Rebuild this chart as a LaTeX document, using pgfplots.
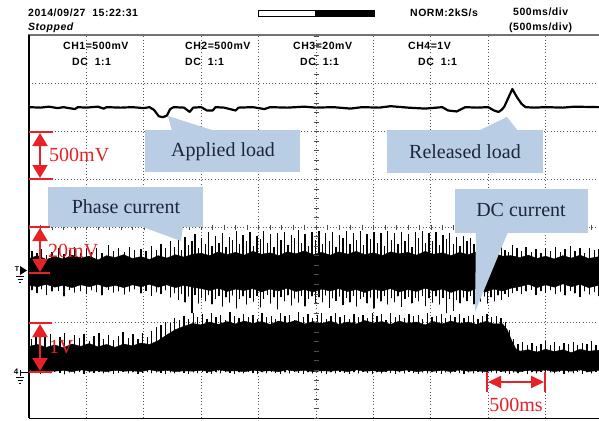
\documentclass[border=0pt]{standalone}
\usepackage{pgfplots}
\pgfplotsset{compat=1.18}
\usepackage{pgfplotstable}
\usepackage{fontspec}
\setmainfont{Liberation Serif}
\newfontfamily\scopefnt[LetterSpace=5]{Liberation Sans}
\usetikzlibrary{arrows.meta}
\definecolor{myred}{RGB}{232,32,40}
\definecolor{callblue}{RGB}{185,205,229}
\definecolor{calltext}{RGB}{30,38,58}

% phase current (CH3) spikes: x [div], low, high [div]
\pgfplotstableread{
x lo hi
0.05 -1.32 -0.50
0.14 -1.38 -0.55
0.22 -1.30 -0.46
0.31 -1.42 -0.58
0.40 -1.35 -0.52
0.52 -1.33 -0.44
0.61 -1.45 -0.56
0.70 -1.31 -0.49
0.79 -1.37 -0.41
0.90 -1.34 -0.54
1.00 -1.40 -0.47
1.09 -1.32 -0.52
1.18 -1.36 -0.43
1.27 -1.43 -0.55
1.38 -1.31 -0.38
1.47 -1.37 -0.50
1.56 -1.34 -0.45
1.66 -1.41 -0.53
1.75 -1.35 -0.42
1.84 -1.30 -0.49
1.95 -1.39 -0.46
2.04 -1.33 -0.51
2.13 -1.44 -0.40
2.22 -1.36 -0.48
2.30 -1.40 -0.36
2.38 -1.32 -0.44
2.46 -1.47 -0.30
2.53 -1.38 -0.42
2.60 -1.52 -0.25
2.66 -1.40 -0.48
2.72 -1.58 -0.20
2.78 -1.45 -0.38
2.84 -1.80 -0.30
2.89 -1.42 -0.15
2.95 -1.60 -0.45
3.01 -1.48 -0.22
3.07 -1.55 -0.35
3.13 -1.42 -0.10
3.19 -1.62 -0.40
3.25 -1.50 -0.18
3.31 -1.44 -0.33
3.37 -1.66 -0.12
3.43 -1.47 -0.42
3.49 -1.58 -0.20
3.55 -1.43 -0.28
3.61 -1.70 -0.09
3.67 -1.50 -0.36
3.73 -1.45 -0.16
3.79 -1.62 -0.30
3.85 -1.48 -0.11
3.91 -1.56 -0.40
3.97 -1.44 -0.19
4.03 -1.68 -0.26
4.09 -1.50 -0.08
4.15 -1.42 -0.34
4.21 -1.60 -0.15
4.27 -1.47 -0.42
4.33 -1.72 -0.12
4.39 -1.46 -0.28
4.45 -1.55 -0.10
4.51 -1.43 -0.38
4.57 -1.64 -0.17
4.63 -1.49 -0.24
4.69 -1.58 -0.07
4.75 -1.44 -0.33
4.81 -1.66 -0.14
4.87 -1.50 -0.40
4.93 -1.45 -0.11
4.99 -1.61 -0.27
5.05 -1.47 -0.09
5.11 -1.57 -0.36
5.17 -1.43 -0.13
5.23 -1.69 -0.30
5.29 -1.49 -0.10
5.35 -1.54 -0.41
5.41 -1.45 -0.16
5.47 -1.63 -0.23
5.53 -1.48 -0.08
5.59 -1.58 -0.35
5.65 -1.44 -0.12
5.71 -1.66 -0.28
5.77 -1.50 -0.09
5.83 -1.46 -0.38
5.89 -1.60 -0.14
5.95 -1.47 -0.25
6.01 -1.70 -0.10
6.07 -1.49 -0.33
6.13 -1.56 -0.12
6.19 -1.44 -0.40
6.25 -1.62 -0.08
6.31 -1.48 -0.27
6.37 -1.57 -0.13
6.43 -1.45 -0.36
6.49 -1.67 -0.10
6.55 -1.50 -0.29
6.61 -1.46 -0.15
6.67 -1.60 -0.42
6.73 -1.48 -0.11
6.79 -1.55 -0.24
6.85 -1.44 -0.09
6.91 -1.65 -0.34
6.97 -1.49 -0.13
7.03 -1.58 -0.30
7.09 -1.45 -0.10
7.15 -1.62 -0.38
7.21 -1.48 -0.16
7.27 -1.80 -0.26
7.33 -1.50 -0.12
7.39 -1.75 -0.35
7.45 -1.52 -0.20
7.51 -1.60 -0.40
7.57 -1.47 -0.18
7.63 -1.55 -0.30
7.69 -1.44 -0.22
7.75 -1.62 -0.36
7.81 -1.48 -0.25
7.87 -1.56 -0.42
7.93 -1.45 -0.28
7.99 -1.60 -0.45
8.05 -1.47 -0.30
8.11 -1.55 -0.38
8.17 -1.43 -0.46
8.23 -1.52 -0.40
8.29 -1.40 -0.48
8.35 -1.46 -0.52
8.42 -1.38 -0.38
8.50 -1.33 -0.45
8.58 -1.40 -0.50
8.66 -1.35 -0.42
8.75 -1.31 -0.52
8.83 -1.42 -0.46
8.92 -1.34 -0.55
9.00 -1.38 -0.44
9.09 -1.32 -0.50
9.17 -1.40 -0.41
9.26 -1.35 -0.53
9.34 -1.43 -0.47
9.43 -1.33 -0.40
9.51 -1.39 -0.51
9.60 -1.46 -0.45
9.68 -1.34 -0.54
9.77 -1.41 -0.43
9.85 -1.36 -0.49
9.92 -1.44 -0.46
}\chthreespikes

% DC current (CH4) spikes
\pgfplotstableread{
x lo hi
0.04 -3.05 -2.35
0.12 -3.03 -2.28
0.20 -3.07 -2.40
0.28 -3.04 -2.31
0.37 -3.06 -2.25
0.45 -3.03 -2.38
0.54 -3.05 -2.30
0.62 -3.08 -2.22
0.71 -3.04 -2.36
0.79 -3.06 -2.27
0.88 -3.03 -2.33
0.96 -3.07 -2.24
1.05 -3.04 -2.39
1.13 -3.05 -2.29
1.22 -3.03 -2.21
1.30 -3.06 -2.34
1.39 -3.04 -2.26
1.47 -3.07 -2.37
1.56 -3.05 -2.28
1.64 -3.03 -2.20
1.73 -3.06 -2.32
1.81 -3.04 -2.25
1.90 -3.07 -2.35
1.98 -3.05 -2.23
2.06 -3.03 -2.30
2.14 -3.06 -2.18
2.22 -3.04 -2.10
2.30 -3.05 -2.05
2.38 -3.07 -1.98
2.46 -3.04 -2.00
2.54 -3.06 -1.90
2.62 -3.03 -1.94
2.70 -3.05 -1.86
2.78 -3.07 -1.92
2.86 -3.04 -1.80
2.94 -3.06 -1.88
3.02 -3.03 -1.83
3.10 -3.05 -1.93
3.18 -3.07 -1.81
3.26 -3.04 -1.89
3.34 -3.06 -1.85
3.42 -3.03 -1.94
3.50 -3.05 -1.79
3.58 -3.07 -1.87
3.66 -3.04 -1.91
3.74 -3.06 -1.82
3.82 -3.03 -1.88
3.90 -3.05 -1.84
3.98 -3.07 -1.93
4.06 -3.04 -1.80
4.14 -3.06 -1.89
4.22 -3.03 -1.86
4.30 -3.05 -1.92
4.38 -3.07 -1.81
4.46 -3.04 -1.87
4.54 -3.06 -1.84
4.62 -3.03 -1.94
4.70 -3.05 -1.79
4.78 -3.07 -1.88
4.86 -3.04 -1.83
4.94 -3.06 -1.90
5.02 -3.03 -1.85
5.10 -3.05 -1.81
5.18 -3.07 -1.92
5.26 -3.04 -1.86
5.34 -3.06 -1.80
5.42 -3.03 -1.89
5.50 -3.05 -1.84
5.58 -3.07 -1.93
5.66 -3.04 -1.82
5.74 -3.06 -1.88
5.82 -3.03 -1.85
5.90 -3.05 -1.91
5.98 -3.07 -1.80
6.06 -3.04 -1.87
6.14 -3.06 -1.83
6.22 -3.03 -1.94
6.30 -3.05 -1.81
6.38 -3.07 -1.88
6.46 -3.04 -1.85
6.54 -3.06 -1.90
6.62 -3.03 -1.82
6.70 -3.05 -1.87
6.78 -3.07 -1.84
6.86 -3.04 -1.92
6.94 -3.06 -1.80
7.02 -3.03 -1.89
7.10 -3.05 -1.86
7.18 -3.07 -1.83
7.26 -3.04 -1.91
7.34 -3.06 -1.85
7.42 -3.03 -1.88
7.50 -3.05 -1.82
7.58 -3.07 -1.90
7.66 -3.04 -1.86
7.74 -3.06 -1.84
7.82 -3.03 -1.92
7.90 -3.05 -1.87
7.98 -3.07 -1.83
8.06 -3.04 -1.89
8.14 -3.06 -1.86
8.22 -3.03 -1.91
8.30 -3.05 -1.98
8.37 -3.07 -2.15
8.44 -3.04 -2.35
8.52 -3.06 -2.45
8.60 -3.03 -2.40
8.68 -3.07 -2.48
8.76 -3.04 -2.42
8.84 -3.06 -2.50
8.92 -3.03 -2.44
9.00 -3.08 -2.38
9.08 -3.04 -2.47
9.16 -3.06 -2.41
9.24 -3.03 -2.49
9.32 -3.07 -2.43
9.40 -3.04 -2.46
9.48 -3.06 -2.40
9.56 -3.03 -2.48
9.64 -3.07 -2.42
9.72 -3.04 -2.45
9.80 -3.06 -2.39
9.88 -3.03 -2.47
}\chfourspikes

\pgfplotsset{spikes/.style={only marks, mark=*, mark size=0.1pt,
  mark options={draw=none, fill=none},
  error bars/.cd, y dir=plus, y explicit, error mark=none,
  error bar style={draw=black, line width=1.3pt}}}

\begin{document}
\begin{tikzpicture}
\path[use as bounding box] (0,0) rectangle (599pt,-420pt);
\fill[white] (0,0) rectangle (599pt,-420pt);
\begin{axis}[
  at={(29pt,-418pt)}, anchor=south west,
  scale only axis, width=570pt, height=382pt,
  xmin=0, xmax=9.93, ymin=-4, ymax=4,
  xtick={1,2,3,4,5,6,7,8,9}, ytick={-3,-2,-1,0,1,2,3},
  xticklabels={}, yticklabels={},
  xmajorgrids, ymajorgrids,
  major grid style={black!65, line width=0.7pt, dash pattern=on 0.8pt off 2.4pt},
  axis line style={draw=none}, tick style={draw=none},
]
% CH1 trace
\addplot[black, line width=2.2pt, line join=round] coordinates {
(0,2.51) (0.2,2.50) (0.35,2.52) (0.5,2.49) (0.6,2.51) (0.8,2.47) (0.85,2.51)
(1.0,2.50) (1.2,2.52) (1.3,2.48) (1.35,2.51) (1.6,2.50) (1.8,2.51) (2.0,2.49)
(2.1,2.51) (2.18,2.45) (2.26,2.32) (2.33,2.30) (2.40,2.33) (2.46,2.47) (2.52,2.51)
(2.7,2.50) (2.8,2.41) (2.86,2.50) (3.0,2.51) (3.1,2.44) (3.2,2.44) (3.25,2.51)
(3.4,2.50) (3.6,2.44) (3.65,2.50) (3.9,2.51) (4.1,2.47) (4.2,2.51) (4.5,2.50)
(4.8,2.52) (5.0,2.50) (5.3,2.51) (5.6,2.48) (5.8,2.51) (6.1,2.50) (6.3,2.53)
(6.6,2.50) (6.9,2.48) (7.2,2.51) (7.3,2.44) (7.45,2.42) (7.55,2.48) (7.6,2.51)
(7.8,2.50) (8.0,2.51) (8.1,2.44) (8.18,2.41) (8.24,2.46) (8.28,2.52) (8.42,2.89)
(8.50,2.72) (8.58,2.58) (8.65,2.51) (8.8,2.50) (9.0,2.51) (9.3,2.50) (9.5,2.52) (9.93,2.51)
};
% CH4 core band
\addplot[fill=black, draw=black, line width=0.4pt] coordinates {
(0,-2.50) (0.15,-2.46) (0.3,-2.52) (0.45,-2.47) (0.6,-2.53) (0.75,-2.45) (0.9,-2.50)
(1.05,-2.44) (1.2,-2.51) (1.35,-2.46) (1.5,-2.52) (1.65,-2.45) (1.8,-2.49) (1.95,-2.43)
(2.1,-2.46) (2.25,-2.38) (2.4,-2.26) (2.55,-2.15) (2.7,-2.08) (2.85,-2.02) (3.0,-2.05)
(3.15,-1.99) (3.3,-2.04) (3.45,-1.98) (3.6,-2.03) (3.75,-1.97) (3.9,-2.02) (4.05,-1.98)
(4.2,-2.04) (4.35,-1.97) (4.5,-2.01) (4.65,-1.96) (4.8,-2.03) (4.95,-1.98) (5.1,-2.02)
(5.25,-1.97) (5.4,-2.04) (5.55,-1.99) (5.7,-2.03) (5.85,-1.96) (6.0,-2.01) (6.15,-1.98)
(6.3,-2.04) (6.45,-1.97) (6.6,-2.02) (6.75,-1.99) (6.9,-2.05) (7.05,-1.98) (7.2,-2.03)
(7.35,-1.97) (7.5,-2.02) (7.65,-1.99) (7.8,-2.04) (7.95,-1.98) (8.1,-2.03) (8.25,-2.03)
(8.33,-2.15) (8.41,-2.38) (8.48,-2.55) (8.55,-2.60) (8.7,-2.57) (8.85,-2.62) (9.0,-2.56)
(9.15,-2.61) (9.3,-2.57) (9.45,-2.63) (9.6,-2.56) (9.75,-2.60) (9.93,-2.58)
(9.93,-3.00) (9.75,-3.03) (9.6,-2.99) (9.45,-3.02) (9.3,-3.00) (9.15,-3.03) (9.0,-2.99)
(8.85,-3.02) (8.7,-3.00) (8.55,-3.03) (8.4,-3.01) (8.25,-3.02) (8.1,-3.00) (7.95,-3.03)
(7.8,-3.01) (7.65,-3.02) (7.5,-2.99) (7.35,-3.03) (7.2,-3.00) (7.05,-3.02) (6.9,-3.01)
(6.75,-3.03) (6.6,-2.99) (6.45,-3.02) (6.3,-3.00) (6.15,-3.03) (6.0,-3.01) (5.85,-3.02)
(5.7,-2.99) (5.55,-3.03) (5.4,-3.00) (5.25,-3.02) (5.1,-3.01) (4.95,-3.03) (4.8,-3.00)
(4.65,-3.02) (4.5,-2.99) (4.35,-3.03) (4.2,-3.01) (4.05,-3.02) (3.9,-3.00) (3.75,-3.03)
(3.6,-3.01) (3.45,-3.02) (3.3,-2.99) (3.15,-3.03) (3.0,-3.00) (2.85,-3.02) (2.7,-3.01)
(2.55,-3.03) (2.4,-3.00) (2.25,-3.02) (2.1,-2.99) (1.95,-3.03) (1.8,-3.01) (1.65,-3.02)
(1.5,-3.00) (1.35,-3.03) (1.2,-3.01) (1.05,-3.02) (0.9,-2.99) (0.75,-3.03) (0.6,-3.00)
(0.45,-3.02) (0.3,-3.01) (0.15,-3.03) (0,-3.00)
} -- cycle;
\addplot[spikes] table[x=x, y=lo, y error expr=\thisrow{hi}-\thisrow{lo}] {\chfourspikes};
% CH3 core band
\addplot[fill=black, draw=black, line width=0.4pt] coordinates {
(0,-0.66) (0.15,-0.60) (0.3,-0.68) (0.45,-0.62) (0.6,-0.67) (0.75,-0.59) (0.9,-0.65)
(1.05,-0.61) (1.2,-0.69) (1.35,-0.60) (1.5,-0.64) (1.65,-0.58) (1.8,-0.66) (1.95,-0.62)
(2.1,-0.68) (2.25,-0.60) (2.4,-0.65) (2.55,-0.58) (2.7,-0.63) (2.85,-0.57) (3.0,-0.55)
(3.15,-0.60) (3.3,-0.52) (3.45,-0.58) (3.6,-0.53) (3.75,-0.59) (3.9,-0.51) (4.05,-0.57)
(4.2,-0.54) (4.35,-0.60) (4.5,-0.52) (4.65,-0.56) (4.8,-0.50) (4.95,-0.58) (5.1,-0.53)
(5.25,-0.59) (5.4,-0.52) (5.55,-0.57) (5.7,-0.51) (5.85,-0.58) (6.0,-0.54) (6.15,-0.60)
(6.3,-0.52) (6.45,-0.56) (6.6,-0.53) (6.75,-0.59) (6.9,-0.51) (7.05,-0.57) (7.2,-0.54)
(7.35,-0.60) (7.5,-0.53) (7.65,-0.58) (7.8,-0.52) (7.95,-0.57) (8.1,-0.55) (8.25,-0.61)
(8.4,-0.60) (8.55,-0.64) (8.7,-0.59) (8.85,-0.66) (9.0,-0.61) (9.15,-0.67) (9.3,-0.60)
(9.45,-0.65) (9.6,-0.59) (9.75,-0.66) (9.93,-0.62)
(9.93,-1.22) (9.75,-1.27) (9.6,-1.20) (9.45,-1.25) (9.3,-1.19) (9.15,-1.26) (9.0,-1.21)
(8.85,-1.27) (8.7,-1.20) (8.55,-1.25) (8.4,-1.28) (8.25,-1.34) (8.1,-1.30) (7.95,-1.36)
(7.8,-1.29) (7.65,-1.35) (7.5,-1.31) (7.35,-1.37) (7.2,-1.30) (7.05,-1.34) (6.9,-1.28)
(6.75,-1.35) (6.6,-1.31) (6.45,-1.36) (6.3,-1.29) (6.15,-1.34) (6.0,-1.30) (5.85,-1.37)
(5.7,-1.31) (5.55,-1.35) (5.4,-1.29) (5.25,-1.34) (5.1,-1.30) (4.95,-1.36) (4.8,-1.31)
(4.65,-1.35) (4.5,-1.28) (4.35,-1.34) (4.2,-1.30) (4.05,-1.36) (3.9,-1.29) (3.75,-1.33)
(3.6,-1.30) (3.45,-1.35) (3.3,-1.28) (3.15,-1.33) (3.0,-1.29) (2.85,-1.26) (2.7,-1.22)
(2.55,-1.27) (2.4,-1.21) (2.25,-1.26) (2.1,-1.20) (1.95,-1.25) (1.8,-1.21) (1.65,-1.27)
(1.5,-1.22) (1.35,-1.26) (1.2,-1.20) (1.05,-1.25) (0.9,-1.21) (0.75,-1.27) (0.6,-1.22)
(0.45,-1.26) (0.3,-1.20) (0.15,-1.25) (0,-1.22)
} -- cycle;
\addplot[spikes] table[x=x, y=lo, y error expr=\thisrow{hi}-\thisrow{lo}] {\chthreespikes};
\end{axis}

\begin{scope}[x=1pt,y=-1pt]
% frame
\draw[black!55, line width=1.6pt] (28,35) -- (599,35);
\draw[black, line width=1.2pt] (29,35) -- (29,418);
\draw[black, line width=1.6pt] (29,418.5) -- (599,418.5);
% centre tick marks
\foreach \i in {0,...,49} {\draw[black!70, line width=0.6pt] ({29+\i*11.48},224.5) -- ({29+\i*11.48},229.5);}
\foreach \j in {0,...,40} {\draw[black!70, line width=0.6pt] (313.5,{36+\j*9.55}) -- (318.5,{36+\j*9.55});}
% header
\tikzset{hdr/.style={anchor=base west, inner sep=0, font=\scopefnt\bfseries\fontsize{10.5}{12}\selectfont}}
\node[hdr] at (28,17) {2014/09/27\ \ 15:22:31};
\node[hdr, font=\scopefnt\bfseries\itshape\fontsize{10.5}{12}\selectfont] at (28,31) {Stopped};
\draw[black, line width=0.8pt, fill=white] (258,10) rectangle (374,16.5);
\fill[black] (315,10) rectangle (374,16.5);
\node[hdr] at (410,17) {NORM:2kS/s};
\node[hdr] at (513,16) {500ms/div};
\node[hdr] at (509,31) {(500ms/div)};
\foreach \xa/\xb/\lab in {63/72/CH1=500mV, 185/185/CH2=500mV, 293/300/CH3=20mV, 408/418/CH4=1V} {
  \node[hdr] at (\xa,49) {\lab};
  \node[hdr] at (\xb,65) {DC\ \ 1:1};
}
% ground / trigger markers
\node[font=\scopefnt\bfseries\fontsize{7}{8}\selectfont, inner sep=0] at (17,269) {T};
\fill[black] (20,266) -- (27,270.5) -- (20,275) -- cycle;
\draw[black, line width=0.8pt] (16,276) -- (24,276) (17.5,279) -- (22.5,279) (19,282) -- (21,282);
\node[font=\scopefnt\bfseries\fontsize{8}{9}\selectfont, inner sep=0] at (16,372) {4};
\draw[black, line width=0.8pt] (20,370) -- (20,376) (20,372) -- (29,372) (16,377) -- (24,377) (17.5,380) -- (22.5,380) (19,383) -- (21,383);
% callouts
\fill[callblue] (145,130) rectangle (300,172);
\fill[callblue] (172,131) -- (168,116) -- (215,131) -- cycle;
\node[calltext, font=\fontsize{20}{22}\selectfont] at (223,152) {Applied load};
\fill[callblue] (387,130) rectangle (543,173);
\fill[callblue] (478,131) -- (507,117) -- (518,131) -- cycle;
\node[calltext, font=\fontsize{20}{22}\selectfont] at (465,152) {Released load};
\fill[callblue] (48,187) rectangle (203,227);
\fill[callblue] (140,226) -- (183,226) -- (181,241) -- cycle;
\node[calltext, font=\fontsize{20}{22}\selectfont] at (126,207) {Phase current};
\fill[callblue] (455,189) rectangle (588,233);
\fill[callblue] (476,232) -- (508,232) -- (475,312) -- cycle;
\node[calltext, font=\fontsize{20}{22}\selectfont] at (521,210) {DC current};
% red scale marks
\draw[myred, line width=2pt] (29,132) -- (53,132) (29,179) -- (53,179);
\draw[myred, line width=2pt, {Triangle[width=15pt,length=13pt]}-{Triangle[width=15pt,length=13pt]}] (40,133) -- (40,178);
\node[myred, anchor=west, inner sep=0, font=\fontsize{20}{22}\selectfont] at (49,155) {500mV};
\draw[myred, line width=2pt] (29,227) -- (50,227) (29,273) -- (50,273);
\draw[myred, line width=2pt, {Triangle[width=15pt,length=13pt]}-{Triangle[width=15pt,length=13pt]}] (40,228) -- (40,272);
\node[myred, anchor=west, inner sep=0, font=\fontsize{20}{22}\selectfont] at (48,251) {20mV};
\draw[myred, line width=2pt] (29,323) -- (52,323) (29,372) -- (52,372);
\draw[myred, line width=2pt, {Triangle[width=15pt,length=13pt]}-{Triangle[width=15pt,length=13pt]}] (40,324) -- (40,371);
\node[myred, anchor=west, inner sep=0, font=\fontsize{20}{22}\selectfont] at (49,347) {1V};
\draw[myred, line width=2.5pt] (487,372) -- (487,392) (545,372) -- (545,392);
\draw[myred, line width=2pt, {Triangle[width=12pt,length=13pt]}-{Triangle[width=12pt,length=13pt]}] (488,382) -- (544,382);
\node[myred, inner sep=0, font=\fontsize{20}{22}\selectfont] at (516,405) {500ms};
\end{scope}
\end{tikzpicture}
\end{document}
